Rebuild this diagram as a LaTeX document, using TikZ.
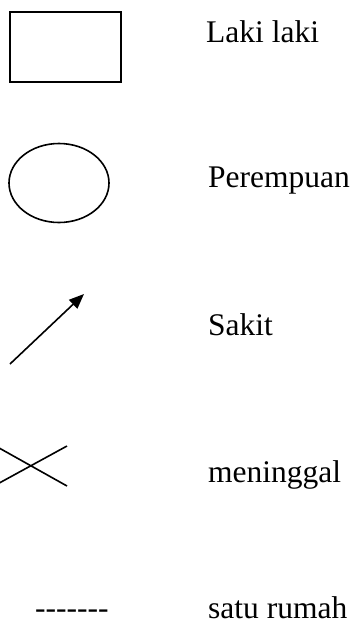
\documentclass[tikz,border=0pt]{standalone}
\usepackage{fontspec}
\setmainfont{Liberation Serif}
\usetikzlibrary{arrows.meta,shapes.geometric}
\begin{document}
\begin{tikzpicture}[x=1pt,y=-1pt,
  sym/.style={line width=1.6pt, draw=black},
  lbl/.style={anchor=base west, inner sep=0pt, font=\fontsize{31.5}{36}\selectfont}]
\useasboundingbox (0,0) rectangle (356,634);
% symbols
\node[sym, rectangle, minimum width=111pt, minimum height=70pt, inner sep=0pt] (male) at (65.5,47) {};
\node[sym, ellipse, minimum width=100pt, minimum height=79pt, inner sep=0pt] (female) at (59,183) {};
\coordinate (a0) at (10,364);
\coordinate (a1) at (84,294);
\draw[sym, -{Triangle[length=15pt,width=12pt]}] (a0) -- (a1);
\coordinate (c1) at (67,446);
\coordinate (c2) at (-8,487);
\coordinate (c3) at (-8,444);
\coordinate (c4) at (67,486);
\draw[sym] (c1) -- (c2);
\draw[sym] (c3) -- (c4);
\node[lbl] (dash) at (35,618) {-{}-{}-{}-{}-{}-{}-};
% labels
\node[lbl] (l1) at (206,42) {Laki laki};
\node[lbl] (l2) at (208,187) {Perempuan};
\node[lbl] (l3) at (208,335) {Sakit};
\node[lbl] (l4) at (208,482) {meninggal};
\node[lbl] (l5) at (208,618) {satu rumah};
\end{tikzpicture}
\end{document}
